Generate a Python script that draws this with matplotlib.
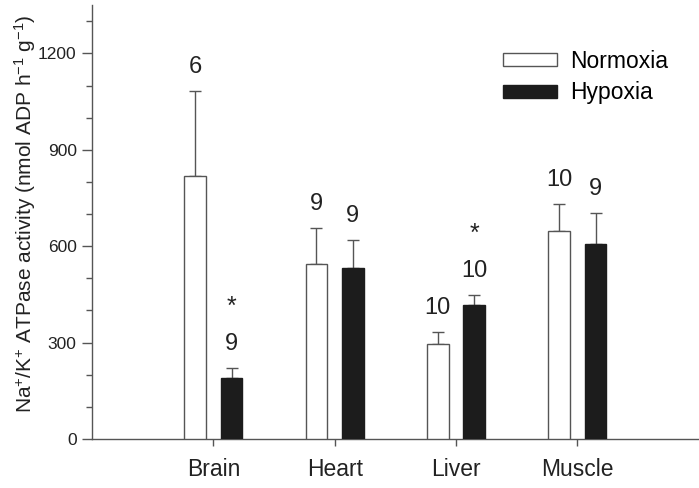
import numpy as np
import matplotlib
matplotlib.use("Agg")
import matplotlib.pyplot as plt
from matplotlib.ticker import MultipleLocator

plt.rcParams['font.family'] = ['Liberation Sans', 'DejaVu Sans']
plt.rcParams['mathtext.fontset'] = 'custom'
plt.rcParams['mathtext.rm'] = 'Liberation Sans'
plt.rcParams['mathtext.it'] = 'Liberation Sans'

tissues = ['Brain', 'Heart', 'Liver', 'Muscle']
normoxia = [817, 544, 296, 648]
normoxia_se = [267, 113, 36, 83]
hypoxia = [190, 533, 417, 607]
hypoxia_se = [32, 86, 30, 96]
n_normoxia = ['6', '9', '10', '10']
n_hypoxia = ['9', '9', '10', '9']
signif_hypoxia = [True, False, True, False]

edge = '#555555'
txt = '#222222'
fig = plt.figure(figsize=(6.99, 4.88), dpi=100)
ax = fig.add_axes([0.1316, 0.1004, 0.868, 0.889])

x = np.arange(1, len(tissues) + 1)
off = 0.15
w = 0.18
ax.bar(x - off, normoxia, w, color='white', edgecolor=edge, linewidth=1.0,
       label='Normoxia', zorder=3)
ax.bar(x + off, hypoxia, w, color='#1c1c1c', edgecolor='#1c1c1c', linewidth=1.0,
       label='Hypoxia', zorder=3)
ax.errorbar(x - off, normoxia, yerr=[np.zeros(4), normoxia_se], fmt='none',
            ecolor=edge, elinewidth=1.0, capsize=4, capthick=1.0, zorder=2)
ax.errorbar(x + off, hypoxia, yerr=[np.zeros(4), hypoxia_se], fmt='none',
            ecolor=edge, elinewidth=1.0, capsize=4, capthick=1.0, zorder=2)

for i in range(len(tissues)):
    ax.text(x[i] - off, normoxia[i] + normoxia_se[i] + 75, n_normoxia[i],
            ha='center', va='center', fontsize=17, color=txt)
    ax.text(x[i] + off, hypoxia[i] + hypoxia_se[i] + 75, n_hypoxia[i],
            ha='center', va='center', fontsize=17, color=txt)
    if signif_hypoxia[i]:
        ax.text(x[i] + off, hypoxia[i] + hypoxia_se[i] + 190, '*',
                ha='center', va='center', fontsize=18, color=txt)

ax.set_xlim(0, 5)
ax.set_ylim(0, 1350)
ax.set_xticks(x)
ax.set_xticklabels(tissues, fontsize=16.5, color=txt)
ax.yaxis.set_major_locator(MultipleLocator(300))
ax.yaxis.set_minor_locator(MultipleLocator(100))
ax.tick_params(axis='y', which='major', length=7, width=1, colors=edge,
               labelsize=12.5, labelcolor=txt, pad=4)
ax.tick_params(axis='y', which='minor', length=4, width=1, colors=edge)
ax.tick_params(axis='x', length=5, width=1, colors=edge, labelcolor=txt, pad=9)
for s in ['top', 'right']:
    ax.spines[s].set_visible(False)
for s in ['left', 'bottom']:
    ax.spines[s].set_color(edge)
    ax.spines[s].set_linewidth(1.0)

ax.set_ylabel('Na$^{+}$/K$^{+}$ ATPase activity (nmol ADP h$^{-1}$ g$^{-1}$)',
              fontsize=15, color=txt)
ax.yaxis.set_label_coords(-0.089, 0.52)

ax.legend(loc='center left', bbox_to_anchor=(0.677, 0.834), frameon=False,
          fontsize=16.5, handlelength=2.35, handleheight=0.5, handletextpad=0.6,
          labelspacing=0.36, borderpad=0, borderaxespad=0)

fig.savefig('out.png', dpi=100)
